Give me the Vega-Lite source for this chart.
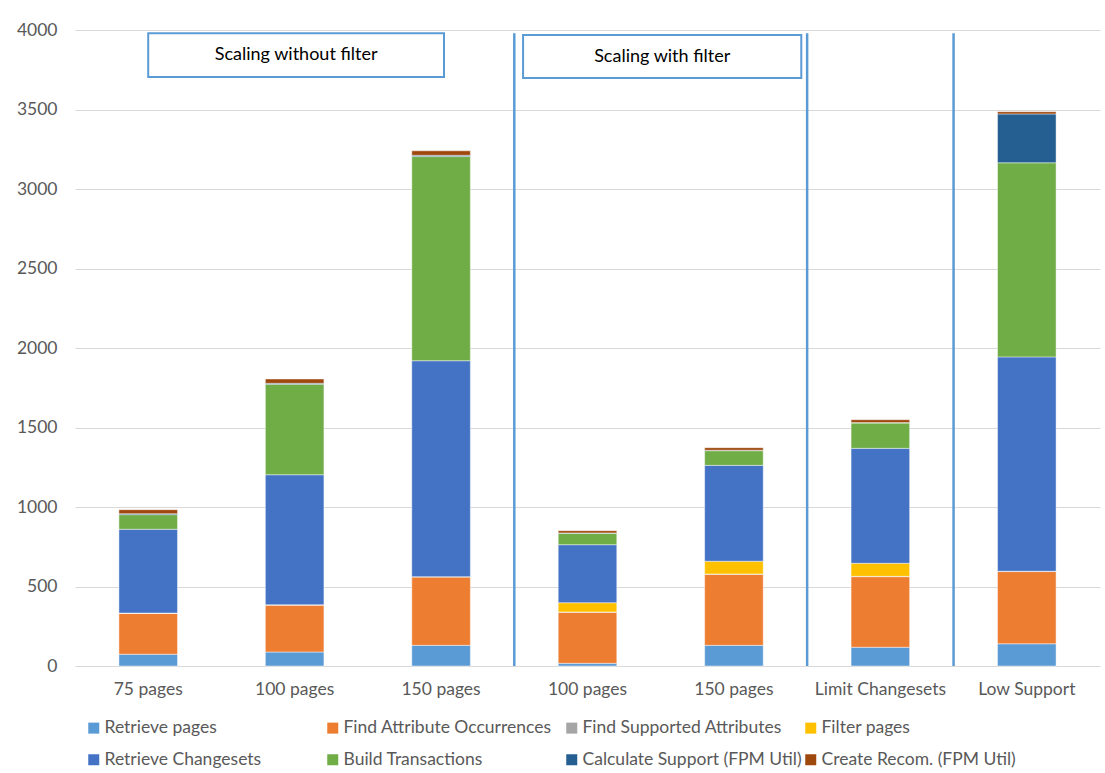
{
  "$schema": "https://vega.github.io/schema/vega-lite/v6.json",
  "width": 1025,
  "height": 636,
  "autosize": "none",
  "padding": {"left": 75, "top": 30, "right": 5, "bottom": 107},
  "background": "white",
  "config": {
    "font": "Lato",
    "view": {"stroke": null},
    "axis": {"labelFont": "Lato", "labelFontSize": 17.5, "labelColor": "#595959", "ticks": false, "gridColor": "#D9D9D9", "domainColor": "#D9D9D9"},
    "legend": {"labelFont": "Lato", "labelFontSize": 17.5, "labelColor": "#595959"}
  },
  "datasets": {
    "runs": [
      {"run": "75 pages", "task": "Retrieve pages", "ms": 74},
      {"run": "75 pages", "task": "Find Attribute Occurrences", "ms": 257},
      {"run": "75 pages", "task": "Find Supported Attributes", "ms": 2},
      {"run": "75 pages", "task": "Filter pages", "ms": 0},
      {"run": "75 pages", "task": "Retrieve Changesets", "ms": 527},
      {"run": "75 pages", "task": "Build Transactions", "ms": 92},
      {"run": "75 pages", "task": "Calculate Support (FPM Util)", "ms": 6},
      {"run": "75 pages", "task": "Create Recom. (FPM Util)", "ms": 25},
      {"run": "100 pages", "task": "Retrieve pages", "ms": 88},
      {"run": "100 pages", "task": "Find Attribute Occurrences", "ms": 295},
      {"run": "100 pages", "task": "Find Supported Attributes", "ms": 2},
      {"run": "100 pages", "task": "Filter pages", "ms": 0},
      {"run": "100 pages", "task": "Retrieve Changesets", "ms": 818},
      {"run": "100 pages", "task": "Build Transactions", "ms": 569},
      {"run": "100 pages", "task": "Calculate Support (FPM Util)", "ms": 6},
      {"run": "100 pages", "task": "Create Recom. (FPM Util)", "ms": 27},
      {"run": "150 pages", "task": "Retrieve pages", "ms": 130},
      {"run": "150 pages", "task": "Find Attribute Occurrences", "ms": 430},
      {"run": "150 pages", "task": "Find Supported Attributes", "ms": 2},
      {"run": "150 pages", "task": "Filter pages", "ms": 0},
      {"run": "150 pages", "task": "Retrieve Changesets", "ms": 1358},
      {"run": "150 pages", "task": "Build Transactions", "ms": 1284},
      {"run": "150 pages", "task": "Calculate Support (FPM Util)", "ms": 8},
      {"run": "150 pages", "task": "Create Recom. (FPM Util)", "ms": 28},
      {"run": "100 pages (with filter)", "task": "Retrieve pages", "ms": 17},
      {"run": "100 pages (with filter)", "task": "Find Attribute Occurrences", "ms": 321},
      {"run": "100 pages (with filter)", "task": "Find Supported Attributes", "ms": 2},
      {"run": "100 pages (with filter)", "task": "Filter pages", "ms": 58},
      {"run": "100 pages (with filter)", "task": "Retrieve Changesets", "ms": 365},
      {"run": "100 pages (with filter)", "task": "Build Transactions", "ms": 72},
      {"run": "100 pages (with filter)", "task": "Calculate Support (FPM Util)", "ms": 2},
      {"run": "100 pages (with filter)", "task": "Create Recom. (FPM Util)", "ms": 14},
      {"run": "150 pages (with filter)", "task": "Retrieve pages", "ms": 130},
      {"run": "150 pages (with filter)", "task": "Find Attribute Occurrences", "ms": 447},
      {"run": "150 pages (with filter)", "task": "Find Supported Attributes", "ms": 2},
      {"run": "150 pages (with filter)", "task": "Filter pages", "ms": 80},
      {"run": "150 pages (with filter)", "task": "Retrieve Changesets", "ms": 603},
      {"run": "150 pages (with filter)", "task": "Build Transactions", "ms": 92},
      {"run": "150 pages (with filter)", "task": "Calculate Support (FPM Util)", "ms": 3},
      {"run": "150 pages (with filter)", "task": "Create Recom. (FPM Util)", "ms": 16},
      {"run": "Limit Changesets", "task": "Retrieve pages", "ms": 118},
      {"run": "Limit Changesets", "task": "Find Attribute Occurrences", "ms": 444},
      {"run": "Limit Changesets", "task": "Find Supported Attributes", "ms": 2},
      {"run": "Limit Changesets", "task": "Filter pages", "ms": 82},
      {"run": "Limit Changesets", "task": "Retrieve Changesets", "ms": 723},
      {"run": "Limit Changesets", "task": "Build Transactions", "ms": 159},
      {"run": "Limit Changesets", "task": "Calculate Support (FPM Util)", "ms": 3},
      {"run": "Limit Changesets", "task": "Create Recom. (FPM Util)", "ms": 18},
      {"run": "Low Support", "task": "Retrieve pages", "ms": 140},
      {"run": "Low Support", "task": "Find Attribute Occurrences", "ms": 454},
      {"run": "Low Support", "task": "Find Supported Attributes", "ms": 2},
      {"run": "Low Support", "task": "Filter pages", "ms": 0},
      {"run": "Low Support", "task": "Retrieve Changesets", "ms": 1348},
      {"run": "Low Support", "task": "Build Transactions", "ms": 1221},
      {"run": "Low Support", "task": "Calculate Support (FPM Util)", "ms": 307},
      {"run": "Low Support", "task": "Create Recom. (FPM Util)", "ms": 14}
    ],
    "separators": [
      {"pos": 3, "top": 3980, "bottom": 0},
      {"pos": 5, "top": 3980, "bottom": 0},
      {"pos": 6, "top": 3980, "bottom": 0}
    ],
    "boxes": [
      {"label": "Scaling without filter", "from": 0.5, "to": 2.52, "mid": 1.51, "top": 3980, "bottom": 3705, "ty": 3840},
      {"label": "Scaling with filter", "from": 3.06, "to": 4.96, "mid": 4.01, "top": 3968, "bottom": 3698, "ty": 3830}
    ]
  },
  "layer": [
    {
      "data": {"name": "runs"},
      "transform": [
        {"calculate": "indexof(['Retrieve pages','Find Attribute Occurrences','Find Supported Attributes','Filter pages','Retrieve Changesets','Build Transactions','Calculate Support (FPM Util)','Create Recom. (FPM Util)'], datum.task)", "as": "k"}
      ],
      "mark": {"type": "bar", "stroke": "white", "strokeWidth": 0.75, "strokeOpacity": 0.6},
      "encoding": {
        "x": {
          "field": "run", "type": "nominal", "sort": null,
          "scale": {"paddingInner": 0.6, "paddingOuter": 0.3},
          "axis": {"title": null, "labelAngle": 0, "labelPadding": 14, "labelExpr": "split(datum.label, ' (')[0]", "domain": true, "grid": false}
        },
        "y": {
          "field": "ms", "type": "quantitative", "stack": "zero",
          "scale": {"domain": [0, 4000]},
          "axis": {"title": null, "format": "d", "values": [0, 500, 1000, 1500, 2000, 2500, 3000, 3500, 4000], "domain": false, "labelPadding": 18, "grid": true}
        },
        "color": {
          "field": "task", "type": "nominal",
          "scale": {
            "domain": ["Retrieve pages", "Find Attribute Occurrences", "Find Supported Attributes", "Filter pages", "Retrieve Changesets", "Build Transactions", "Calculate Support (FPM Util)", "Create Recom. (FPM Util)"],
            "range": ["#5B9BD5", "#ED7D31", "#A5A5A5", "#FFC000", "#4472C4", "#70AD47", "#255E91", "#9E480E"]
          },
          "legend": {
            "title": null, "orient": "none", "legendX": 10, "legendY": 689, "direction": "horizontal", "columns": 4,
            "gridAlign": "all", "columnPadding": 0, "rowPadding": 13,
            "symbolType": "square", "symbolSize": 121, "symbolStrokeWidth": 0, "labelOffset": 2, "labelLimit": 300
          }
        },
        "order": {"field": "k", "type": "quantitative"}
      }
    },
    {
      "layer": [
        {
          "data": {"name": "separators"},
          "mark": {"type": "rule", "color": "#5B9BD5", "strokeWidth": 2.5},
          "encoding": {
            "x": {"field": "pos", "type": "quantitative", "scale": {"domain": [0, 7], "nice": false, "zero": false}, "axis": null},
            "y": {"field": "top", "type": "quantitative", "axis": {"title": null}},
            "y2": {"field": "bottom"}
          }
        },
        {
          "data": {"name": "boxes"},
          "mark": {"type": "rect", "fill": "white", "stroke": "#5B9BD5", "strokeWidth": 2},
          "encoding": {
            "x": {"field": "from", "type": "quantitative", "scale": {"domain": [0, 7], "nice": false, "zero": false}, "axis": null},
            "x2": {"field": "to"},
            "y": {"field": "top", "type": "quantitative", "axis": {"title": null}},
            "y2": {"field": "bottom"}
          }
        },
        {
          "data": {"name": "boxes"},
          "mark": {"type": "text", "font": "Lato", "fontSize": 18, "color": "black", "align": "center", "baseline": "middle"},
          "encoding": {
            "x": {"field": "mid", "type": "quantitative", "scale": {"domain": [0, 7], "nice": false, "zero": false}, "axis": null},
            "y": {"field": "ty", "type": "quantitative", "axis": {"title": null}},
            "text": {"field": "label"}
          }
        }
      ]
    }
  ],
  "resolve": {"scale": {"x": "independent"}, "axis": {"x": "independent"}}
}
